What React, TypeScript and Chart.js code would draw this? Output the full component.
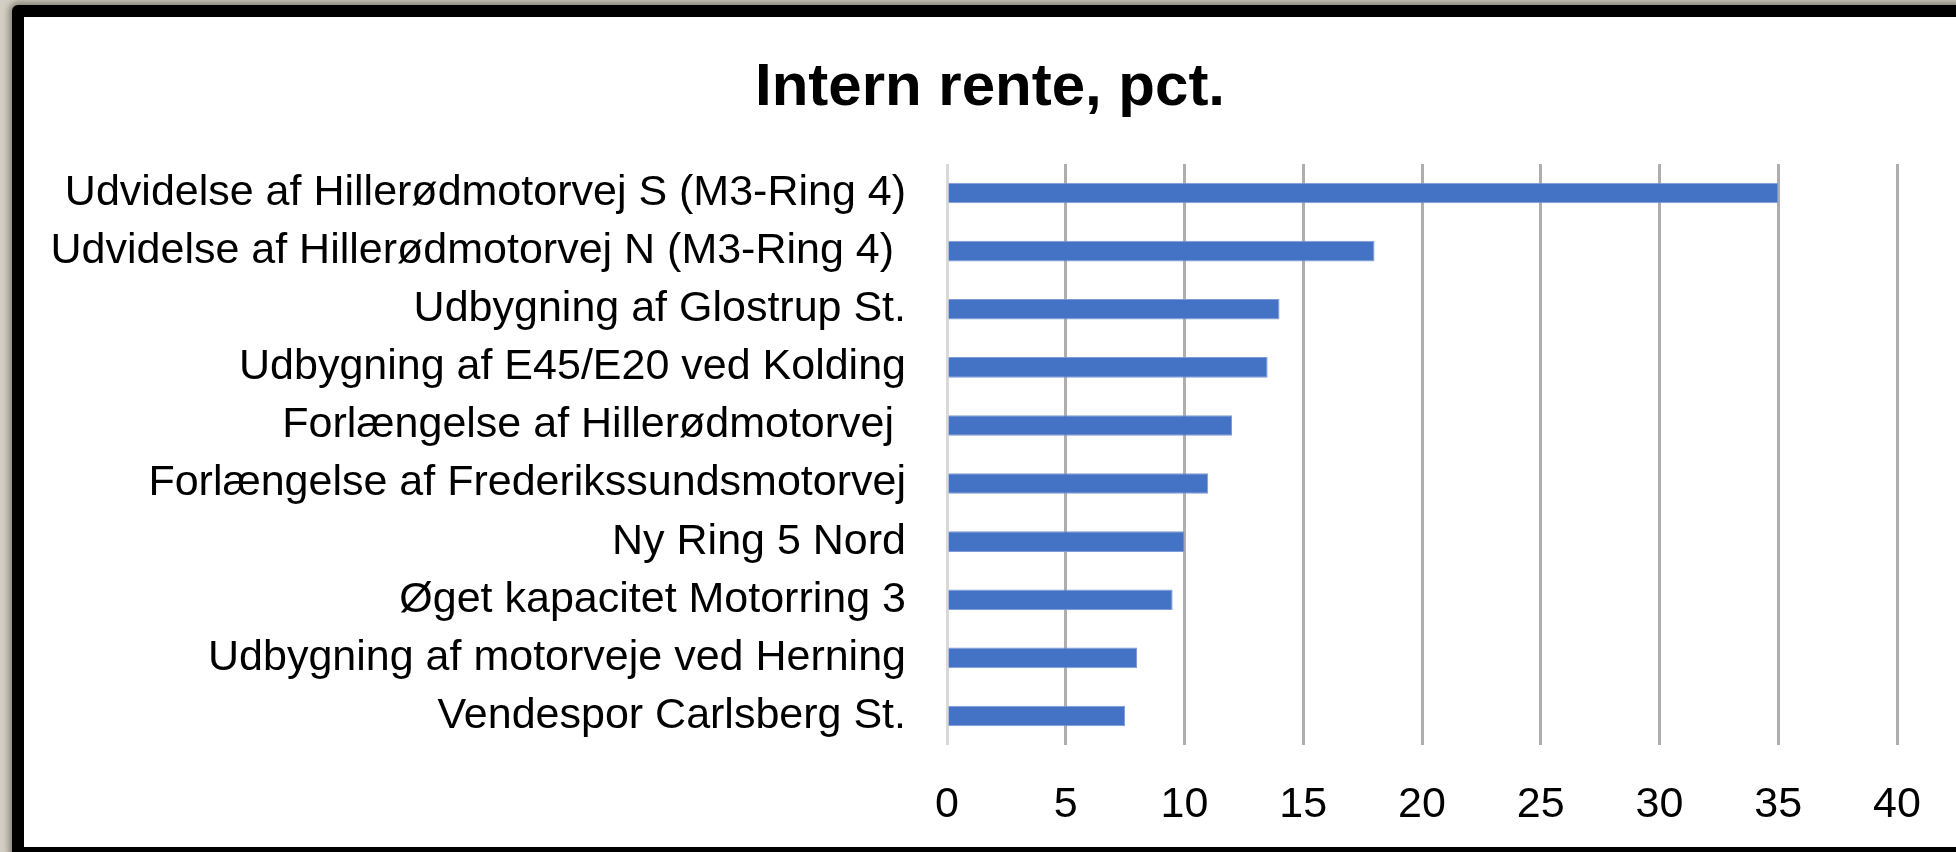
import { useEffect, useRef } from "react";
import { Chart, registerables } from "chart.js";

Chart.register(...registerables);

const chartTitle = "Intern rente, pct.";

const categories = [
  "Udvidelse af Hillerødmotorvej S (M3-Ring 4)",
  "Udvidelse af Hillerødmotorvej N (M3-Ring 4) ",
  "Udbygning af Glostrup St.",
  "Udbygning af E45/E20 ved Kolding",
  "Forlængelse af Hillerødmotorvej ",
  "Forlængelse af Frederikssundsmotorvej",
  "Ny Ring 5 Nord",
  "Øget kapacitet Motorring 3",
  "Udbygning af motorveje ved Herning",
  "Vendespor Carlsberg St.",
];

const values = [35, 18, 14, 13.5, 12, 11, 10, 9.5, 8, 7.5];

const xMin = 0;
const xMax = 40;
const xStep = 5;

const FONT = "'Liberation Sans', Arial, sans-serif";

export default function App() {
  const canvasRef = useRef<HTMLCanvasElement | null>(null);

  useEffect(() => {
    document.body.style.margin = "0";
    const canvas = canvasRef.current;
    if (!canvas) return;
    const chart = new Chart(canvas, {
      type: "bar",
      data: {
        labels: categories,
        datasets: [
          {
            data: values,
            backgroundColor: "#4472C4",
            borderColor: "#7d9bd6",
            borderWidth: 1,
            barPercentage: 0.355,
            categoryPercentage: 1,
          },
        ],
      },
      options: {
        indexAxis: "y",
        animation: false,
        responsive: false,
        maintainAspectRatio: false,
        layout: { padding: { left: 0, right: 0, top: 0, bottom: 0 } },
        plugins: {
          legend: { display: false },
          tooltip: { enabled: false },
          title: {
            display: true,
            text: chartTitle,
            color: "#000000",
            font: { family: FONT, size: 60, weight: "bold", lineHeight: 1.2 },
            padding: { top: 35, bottom: 40 },
          },
        },
        scales: {
          x: {
            type: "linear",
            min: xMin,
            max: xMax,
            ticks: {
              stepSize: xStep,
              color: "#000000",
              font: { family: FONT, size: 43 },
              padding: 34,
              maxRotation: 0,
            },
            grid: {
              drawTicks: false,
              lineWidth: 3,
              color: (ctx: any) =>
                ctx.tick && ctx.tick.value === 0 ? "#d9d9d9" : "#b0adad",
            },
            border: { display: false },
            afterFit: (scale: any) => {
              scale.height = 102;
              scale.paddingRight = 59;
            },
          },
          y: {
            type: "category",
            ticks: {
              color: "#000000",
              font: { family: FONT, size: 43 },
              padding: 41,
              autoSkip: false,
            },
            grid: { display: false, drawTicks: false },
            border: { display: false },
            afterFit: (scale: any) => {
              scale.width = 923;
            },
          },
        },
      },
    });
    return () => chart.destroy();
  }, []);

  return (
    <div
      style={{
        position: "fixed",
        left: 0,
        top: 0,
        width: 1956,
        height: 852,
        overflow: "hidden",
        background: "#d3cfc4",
      }}
    >
      <div
        style={{
          position: "absolute",
          left: 12,
          top: 5,
          width: 1950,
          height: 830,
          border: "12px solid #000000",
          borderRadius: 6,
          background: "#ffffff",
          boxShadow: "0 0 6px 3px rgba(110,104,92,0.75)",
        }}
      >
        <canvas
          ref={canvasRef}
          width={1932}
          height={830}
          style={{ display: "block", width: 1932, height: 830 }}
        />
      </div>
    </div>
  );
}
